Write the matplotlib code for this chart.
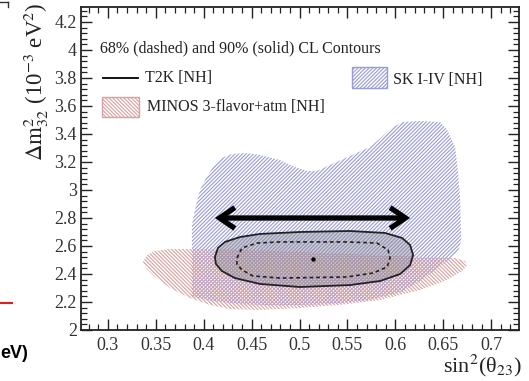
import matplotlib
matplotlib.use("Agg")
import matplotlib.pyplot as plt
from matplotlib.patches import Polygon, Rectangle
from matplotlib.lines import Line2D
from matplotlib.ticker import MultipleLocator, FuncFormatter

plt.rcParams['font.family'] = ['Liberation Serif', 'DejaVu Serif']
plt.rcParams['mathtext.fontset'] = 'stix'
plt.rcParams['hatch.linewidth'] = 0.8

# ---- data ----
# SK I-IV [NH] 90% region outline (sin^2 theta23, dm2_32 in 1e-3 eV^2)
sk_x = [0.3877, 0.3877, 0.3909, 0.3961, 0.4024, 0.4097, 0.4191, 0.4295, 0.4431,
        0.4587, 0.4796, 0.4953, 0.5078, 0.5183, 0.5319, 0.5527, 0.5736, 0.5893,
        0.5976, 0.6081, 0.6258, 0.6467, 0.6540, 0.6624, 0.6655, 0.6676, 0.6687,
        0.6655, 0.6551, 0.6415, 0.6258, 0.6050, 0.5736, 0.5319, 0.4796, 0.4379,
        0.4065, 0.3909]
sk_y = [2.23, 2.75, 2.857, 3.0, 3.086, 3.164, 3.229, 3.257, 3.264,
        3.25, 3.214, 3.164, 3.136, 3.136, 3.179, 3.243, 3.307, 3.40,
        3.45, 3.486, 3.493, 3.486, 3.429, 3.307, 3.121, 2.929, 2.643,
        2.557, 2.50, 2.429, 2.35, 2.27, 2.215, 2.185, 2.175, 2.185,
        2.21, 2.235]

# MINOS 3-flavor+atm [NH] 90% region outline
minos_x = [0.3366, 0.3407, 0.3491, 0.3648, 0.3877, 0.4483, 0.5005, 0.5527,
           0.6050, 0.6258, 0.6467, 0.6624, 0.6728, 0.6749, 0.6697, 0.6572,
           0.6467, 0.6258, 0.6050, 0.5841, 0.5423, 0.5005, 0.4587, 0.4274,
           0.4065, 0.3856, 0.3648, 0.3491, 0.3407]
minos_y = [2.486, 2.536, 2.564, 2.579, 2.579, 2.571, 2.557, 2.543,
           2.529, 2.521, 2.521, 2.514, 2.493, 2.464, 2.421, 2.371,
           2.336, 2.286, 2.25, 2.214, 2.179, 2.157, 2.143, 2.15,
           2.179, 2.229, 2.30, 2.379, 2.436]

# T2K [NH] 90% (solid) contour
t2k90_x = [0.4117, 0.4149, 0.4222, 0.4379, 0.4587, 0.5005, 0.5527, 0.5893,
           0.6071, 0.6154, 0.6185, 0.6154, 0.6050, 0.5841, 0.5527, 0.5005,
           0.4587, 0.4326, 0.4191, 0.4128]
t2k90_y = [2.521, 2.586, 2.629, 2.664, 2.686, 2.700, 2.707, 2.693,
           2.657, 2.607, 2.536, 2.464, 2.400, 2.350, 2.321, 2.307,
           2.329, 2.371, 2.421, 2.471]

# T2K [NH] 68% (dashed) contour
t2k68_x = [0.4347, 0.4400, 0.4556, 0.4796, 0.5496, 0.5809, 0.5924, 0.5945,
           0.5914, 0.5768, 0.5496, 0.4796, 0.4514, 0.4400, 0.4347]
t2k68_y = [2.514, 2.586, 2.621, 2.629, 2.629, 2.621, 2.571, 2.514,
           2.450, 2.407, 2.379, 2.371, 2.386, 2.429, 2.471]

# T2K best fit
best_x = [0.514]
best_y = [2.51]

# double-headed arrow (annotation)
arrow_x = [0.4117, 0.6154]
arrow_y = [2.80, 2.80]

xlim = (0.272, 0.729)
ylim = (2.0, 4.307)

legend_header = "68% (dashed) and 90% (solid) CL Contours"
lbl_t2k = "T2K [NH]"
lbl_sk = "SK I-IV [NH]"
lbl_minos = "MINOS 3-flavor+atm [NH]"

SK_COL = '#9a9ad8'
MINOS_COL = '#d9a0a0'
SK_HATCH = '/' * 9
MINOS_HATCH = '\\' * 9

# ---- figure ----
W, H = 529, 381
fig = plt.figure(figsize=(W / 100, H / 100), dpi=100)
ax = fig.add_axes([81 / W, 1 - 330 / H, (519 - 81) / W, (330 - 7) / H])
ax.set_xlim(*xlim)
ax.set_ylim(*ylim)

ax.add_patch(Polygon(list(zip(sk_x, sk_y)), closed=True, facecolor='none',
                     edgecolor=SK_COL, lw=0, hatch=SK_HATCH, zorder=1))
ax.add_patch(Polygon(list(zip(minos_x, minos_y)), closed=True, facecolor='none',
                     edgecolor=MINOS_COL, lw=0, hatch=MINOS_HATCH, zorder=2))
ax.add_patch(Polygon(list(zip(t2k90_x, t2k90_y)), closed=True, facecolor='#808088',
                     alpha=0.38, lw=0, zorder=3))
ax.add_patch(Polygon(list(zip(t2k90_x, t2k90_y)), closed=True, facecolor='none',
                     edgecolor='#222222', lw=1.3, zorder=4))
ax.add_patch(Polygon(list(zip(t2k68_x, t2k68_y)), closed=True, facecolor='none',
                     edgecolor='#222222', lw=1.2, linestyle=(0, (2.2, 1.8)), zorder=4))
ax.plot(best_x, best_y, 'o', color='black', ms=2.2, zorder=5)

ax.annotate('', xy=(arrow_x[1], arrow_y[1]), xytext=(arrow_x[0], arrow_y[0]),
            arrowprops=dict(arrowstyle='<->, head_length=1.1, head_width=0.75',
                            lw=3.8, color='black', shrinkA=0, shrinkB=0,
                            capstyle='butt', joinstyle='miter'),
            zorder=6)

# axes styling (ROOT-like)
for s in ax.spines.values():
    s.set_linewidth(1.3)
    s.set_color('#222222')
ax.xaxis.set_major_locator(MultipleLocator(0.05))
ax.xaxis.set_minor_locator(MultipleLocator(0.01))
ax.yaxis.set_major_locator(MultipleLocator(0.2))
ax.yaxis.set_minor_locator(MultipleLocator(0.04))
fmt = FuncFormatter(lambda v, p: '%g' % round(v, 3))
ax.xaxis.set_major_formatter(fmt)
ax.yaxis.set_major_formatter(fmt)
ax.tick_params(which='both', direction='in', top=True, right=True,
               colors='#222222', labelcolor='#333333')
ax.tick_params(which='major', length=8, width=1.0, labelsize=13)
ax.tick_params(which='minor', length=4, width=0.9)
ax.tick_params(axis='x', pad=5)
ax.tick_params(axis='y', pad=3)

# axis titles (ROOT style, aligned to the far end)
fig.text(36 / W, 1 - 2 / H, r'$\Delta\mathrm{m}^{2}_{32}$ (10$^{-3}$ eV$^{2}$)',
         rotation=90, ha='center', va='top', fontsize=16.5, color='#222222')
fig.text(522 / W, 1 - 353 / H, r'sin$^{2}$(θ$_{23}$)', ha='right', va='top',
         fontsize=16, color='#222222')

# legend (drawn by hand in axes fraction)
tfs = 11.5
ax.text(0.0434, 0.873, legend_header, transform=ax.transAxes, fontsize=tfs,
        va='center', ha='left', color='#222222')
ax.add_line(Line2D([0.050, 0.130], [0.780, 0.780], transform=ax.transAxes,
                   color='black', lw=1.3))
ax.text(0.146, 0.780, lbl_t2k, transform=ax.transAxes, fontsize=tfs,
        va='center', ha='left', color='#222222')
ax.add_patch(Rectangle((0.048, 0.659), 0.0844, 0.062, transform=ax.transAxes,
                       facecolor='none', edgecolor=MINOS_COL, lw=1.0,
                       hatch=MINOS_HATCH))
ax.text(0.151, 0.690, lbl_minos, transform=ax.transAxes, fontsize=tfs,
        va='center', ha='left', color='#222222')
ax.add_patch(Rectangle((0.619, 0.749), 0.080, 0.065, transform=ax.transAxes,
                       facecolor='none', edgecolor=SK_COL, lw=1.0, hatch=SK_HATCH))
ax.text(0.712, 0.774, lbl_sk, transform=ax.transAxes, fontsize=tfs,
        va='center', ha='left', color='#222222')

# slide remnants at the left edge
fig.add_artist(Line2D([0, 8 / W], [1 - 2 / H, 1 - 2 / H], color='#333333', lw=1.0))
fig.add_artist(Line2D([8 / W, 8 / W], [1 - 2 / H, 1 - 7 / H], color='#333333', lw=1.0))
fig.add_artist(Line2D([0, 12 / W], [1 - 303 / H, 1 - 303 / H], color='#e02020', lw=1.5))
fig.text(0.5 / W, 1 - 354 / H, 'eV)', ha='left', va='center', fontsize=13,
         fontweight='bold', family='Liberation Sans', color='black')

fig.savefig('out.png', dpi=100)
